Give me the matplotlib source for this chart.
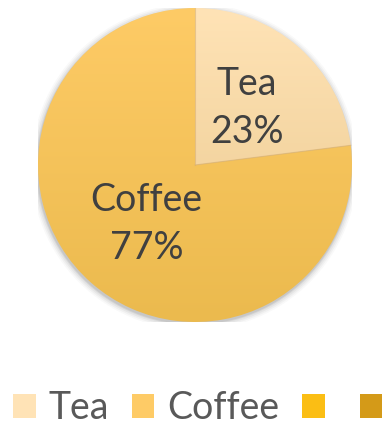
import matplotlib
matplotlib.use('Agg')
import matplotlib.pyplot as plt
import numpy as np
from matplotlib.patches import Patch, Circle
from matplotlib.colors import LinearSegmentedColormap

# data
categories = ['Tea', 'Coffee', '', '']
values = [23, 77, 0, 0]
shown = ['Tea', 'Coffee']

# gradient colours (top, bottom) per category
tops = ['#FFE3B6', '#FECB66', '#FBBE14', '#D49A18']
bottoms = ['#E9C78C', '#EBBA4E', '#F5B000', '#BF8600']

plt.rcParams['font.family'] = ['Lato', 'DejaVu Sans']

fig = plt.figure(figsize=(3.82, 4.30), dpi=100)
ax = fig.add_axes([38 / 382, 108 / 430, 314 / 382, 314 / 430])

# soft shadow behind the pie
for r, a in [(1.04, 0.04), (1.03, 0.06), (1.02, 0.08), (1.01, 0.11), (1.004, 0.14)]:
    ax.add_patch(Circle((-0.004, -0.012), r, color='#6a6a6a', alpha=a, lw=0, zorder=0))

vals = [v for v in values if v > 0]
wedges, _ = ax.pie(vals, startangle=90, counterclock=False, radius=1,
                   colors=tops[:len(vals)], wedgeprops=dict(linewidth=0))

# vertical gradient clipped to each wedge
grad = np.linspace(0, 1, 256).reshape(-1, 1)
for i, w in enumerate(wedges):
    w.set_zorder(1)
    cmap = LinearSegmentedColormap.from_list('g%d' % i, [tops[i], bottoms[i]])
    im = ax.imshow(grad, cmap=cmap, extent=(-1, 1, -1, 1), origin='upper',
                   aspect='auto', zorder=2)
    im.set_clip_path(w)
    w.set_facecolor('none')

# separator lines
for ang in [90, 90 - 360 * values[0] / sum(values)]:
    t = np.deg2rad(ang)
    ax.plot([0, np.cos(t)], [0, np.sin(t)], color='#d9b070', lw=0.8, alpha=0.6, zorder=3)

label_pos = [(0.33, 0.363), (-0.31, -0.376)]
for i, name in enumerate(shown):
    pct = '%d%%' % round(100 * values[i] / sum(values))
    ax.text(label_pos[i][0], label_pos[i][1], f'{name}\n{pct}', ha='center', va='center',
            fontsize=27, color='#404040', linespacing=1.42, zorder=4)

ax.set_xlim(-1, 1)
ax.set_ylim(-1, 1)
ax.set_aspect('auto')
ax.axis('off')

handles = [Patch(facecolor=tops[i], edgecolor='none') for i in range(len(categories))]
fig.legend(handles, categories, loc='lower left', bbox_to_anchor=(0.0, -0.022),
           ncol=4, frameon=False, fontsize=27, labelcolor='#595959',
           handlelength=0.6, handleheight=0.6, handletextpad=0.35,
           columnspacing=0.6, borderaxespad=0.15, borderpad=0.2)

fig.savefig('out.png', dpi=100, facecolor='white')
